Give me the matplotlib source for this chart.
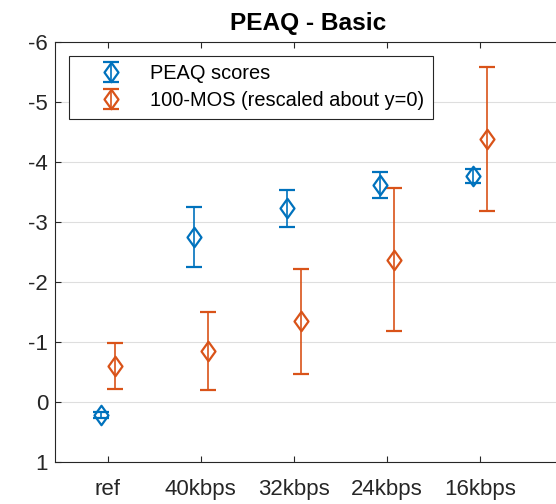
import numpy as np
import matplotlib.pyplot as plt
from matplotlib.path import Path

plt.rcParams['font.family'] = ['Liberation Sans', 'DejaVu Sans']
plt.rcParams['axes.unicode_minus'] = False

categories = ['ref', '40kbps', '32kbps', '24kbps', '16kbps']
peaq_mean = [0.22, -2.75, -3.23, -3.62, -3.77]
peaq_err = [0.05, 0.50, 0.31, 0.22, 0.12]
mos_mean = [-0.60, -0.85, -1.35, -2.37, -4.38]
mos_err = [0.38, 0.65, 0.875, 1.19, 1.195]

blue = '#0072BD'
orange = '#D95319'

# matlab-like diamond, a bit wider than matplotlib's 'd'
diamond = Path([(0, 1), (0.72, 0), (0, -1), (-0.72, 0), (0, 1)],
               [Path.MOVETO, Path.LINETO, Path.LINETO, Path.LINETO, Path.CLOSEPOLY])

fig = plt.figure(figsize=(5.56, 5.04), dpi=100)
ax_w = 1.01 - 55/556
ax = fig.add_axes([55/556, 1-462/504, ax_w, 420/504])

x = np.arange(1, len(categories)+1)
mk = dict(marker=diamond, markersize=14, markerfacecolor='none', markeredgewidth=1.6,
          linestyle='none', elinewidth=1.2, capsize=5.8, capthick=1.2)
ax.errorbar(x-0.075, peaq_mean, yerr=peaq_err, color=blue, label='PEAQ scores', **mk)
ax.errorbar(x+0.075, mos_mean, yerr=mos_err, color=orange,
            label='100-MOS (rescaled about y=0)', **mk)

ax.set_xlim(0.435, 5.88)
ax.set_ylim(1, -6)
ax.set_yticks(range(-6, 2))
ax.set_xticks(x)
ax.set_xticklabels(categories)
ax.tick_params(direction='in', top=True, right=True, labelsize=16, length=4,
               color='#262626', labelcolor='#262626')
ax.tick_params(axis='x', pad=12)
ax.tick_params(axis='y', pad=5)
ax.grid(axis='y', color='#dedede', linewidth=0.8)
ax.set_axisbelow(True)
for s in ax.spines.values():
    s.set_color('#262626')
    s.set_linewidth(0.8)

ax.set_title('PEAQ - Basic', fontsize=17.6, fontweight='bold', pad=8.5)
ax_px = ax_w * 556
leg = ax.legend(loc='upper left', bbox_to_anchor=(14/ax_px, 1-14/420), fontsize=14.4,
                fancybox=False, framealpha=1, edgecolor='#262626', borderaxespad=0,
                handlelength=3.4, handletextpad=0.25, borderpad=0.42, labelspacing=0.4)
leg.get_frame().set_linewidth(0.8)

fig.savefig('out.png', dpi=100)
